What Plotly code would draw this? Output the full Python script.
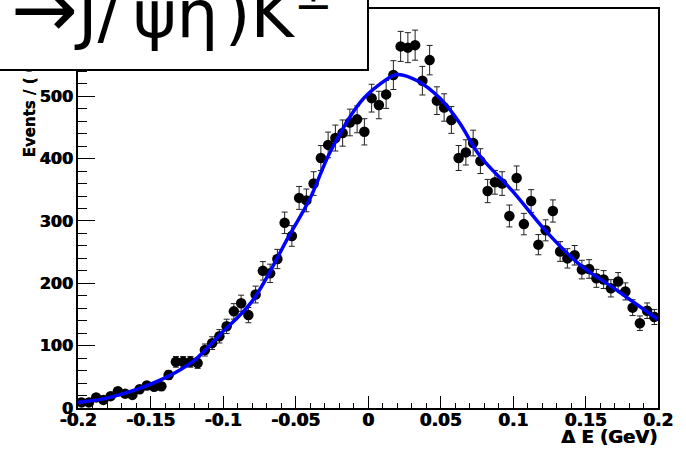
import numpy as np
import plotly.graph_objects as go

# Delta E histogram: 80 bins of 5 MeV between -0.2 and 0.2 GeV
bin_lo, bin_hi, n_bins = -0.2, 0.2, 80
counts = [
    9, 9, 17, 13, 19, 27, 23, 21, 30, 36,
    34, 35, 53, 74, 74, 74, 72, 93, 104, 115,
    131, 155, 168, 149, 182, 220, 216, 239, 297, 276,
    337, 333, 360, 401, 422, 433, 441, 458, 463, 443,
    497, 486, 503, 534, 580, 578, 582, 525, 558, 493,
    482, 462, 401, 410, 425, 396, 348, 362, 360, 308,
    369, 295, 332, 262, 285, 316, 251, 240, 245, 222,
    223, 208, 206, 192, 203, 187, 161, 136, 156, 146,
]

# fitted signal + background curve, sampled along Delta E
fit_de = [-0.2, -0.178, -0.143, -0.12, -0.102, -0.08, -0.054, -0.04, -0.026,
          -0.0055, 0.008, 0.02, 0.034, 0.05, 0.063, 0.077, 0.1, 0.123, 0.146,
          0.169, 0.2]
fit_val = [9, 17, 45, 76, 118, 171, 278, 336, 411,
           490, 519, 535, 525, 496, 458, 405, 347, 283, 230,
           193, 142]

x_ticks = [-0.2, -0.15, -0.1, -0.05, 0, 0.05, 0.1, 0.15, 0.2]
x_tick_text = ["-0.2", "-0.15", "-0.1", "-0.05", "0", "0.05", "0.1", "0.15", "0.2"]
y_ticks = [0, 100, 200, 300, 400, 500, 600]

width = (bin_hi - bin_lo) / n_bins
centers = bin_lo + width * (np.arange(n_bins) + 0.5)
errors = np.sqrt(np.array(counts, dtype=float))  # Poisson errors

W, H = 686, 450
ML, MR, MT, MB = 78, 28, 7, 42
PW, PH = W - ML - MR, H - MT - MB


def px_x(px):
    return (px - ML) / PW


def px_y(py):
    return (H - MB - py) / PH


fig = go.Figure()
fig.add_trace(go.Scatter(
    x=centers, y=counts, mode="markers",
    marker=dict(color="black", size=10.5, symbol="circle"),
    error_y=dict(type="data", array=errors, color="#222222", thickness=1, width=3),
    showlegend=False,
))
fig.add_trace(go.Scatter(
    x=fit_de, y=fit_val, mode="lines",
    line=dict(color="#0000ff", width=3.5, shape="spline", smoothing=1.0),
    showlegend=False,
))

# heavy bold labels
heavy = "0.8px 0 0 black"
tick_font = dict(family="DejaVu Sans", size=17, color="black", weight="bold", shadow=heavy)

fig.update_layout(
    width=W, height=H,
    margin=dict(l=ML, r=MR, t=MT, b=MB),
    paper_bgcolor="white", plot_bgcolor="white",
    xaxis=dict(
        range=[bin_lo, bin_hi], tickmode="array", tickvals=x_ticks, ticktext=x_tick_text,
        ticks="inside", ticklen=12, tickwidth=1, tickcolor="black",
        minor=dict(ticks="inside", ticklen=5, dtick=0.01, tickcolor="black", tickwidth=1),
        showline=True, linecolor="black", linewidth=2, mirror=True,
        showgrid=False, zeroline=False, tickfont=tick_font, ticklabelstandoff=-4,
    ),
    yaxis=dict(
        range=[0, 640], tickmode="array", tickvals=y_ticks,
        ticks="inside", ticklen=17, tickwidth=1, tickcolor="black",
        minor=dict(ticks="inside", ticklen=9, dtick=20, tickcolor="black", tickwidth=1),
        showline=True, linecolor="black", linewidth=2, mirror=True,
        showgrid=False, zeroline=False, tickfont=dict(tick_font, size=16),
    ),
)

annotations = [
    # y-axis title (partly hidden behind the title box)
    dict(text="Events / ( 0.005 GeV )", textangle=-90, showarrow=False,
         xref="paper", yref="paper", x=px_x(30), y=px_y(158),
         xanchor="center", yanchor="bottom",
         font=dict(family="DejaVu Sans", size=15, color="black", weight="bold",
                   shadow="0 0.6px 0 black")),
    # x-axis title
    dict(text="Δ E (GeV)", showarrow=False,
         xref="paper", yref="paper", x=px_x(659), y=px_y(437),
         xanchor="right", yanchor="middle",
         font=dict(family="DejaVu Sans", size=18, color="black", weight="bold",
                   shadow=heavy)),
    # title box
    dict(text=" ", showarrow=False, xref="paper", yref="paper",
         x=px_x(369), y=px_y(69), xanchor="right", yanchor="bottom",
         width=400, height=100, bgcolor="white", bordercolor="black",
         borderwidth=2, borderpad=0),
    # title text
    dict(text='<span style="font-size:80px">→</span>J/\u2009ψη\u200a)K<sup>±</sup>',
         showarrow=False, xref="paper", yref="paper",
         x=px_x(9), y=px_y(56), xanchor="left", yanchor="bottom",
         font=dict(family="DejaVu Sans", size=66, color="black")),
]
fig.update_layout(annotations=annotations)

fig.write_html("out.html")
